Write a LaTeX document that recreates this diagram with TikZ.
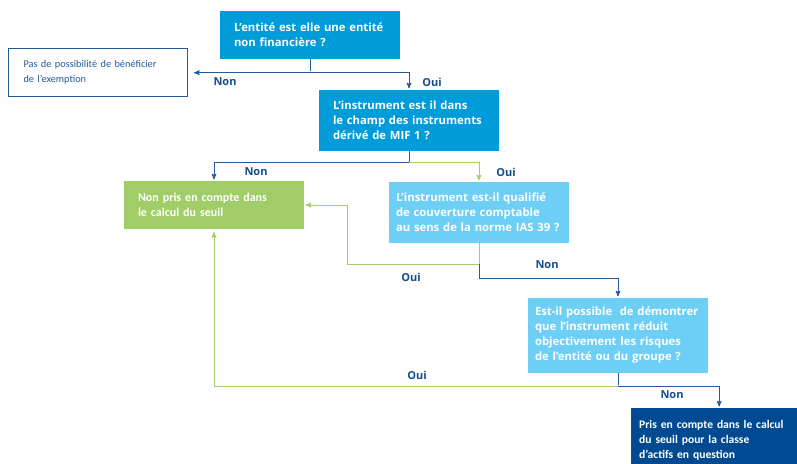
\documentclass[tikz,border=0pt]{standalone}
\usepackage{fontspec}
\setmainfont{Open Sans}
\newfontfamily\condfont{Carlito}
\usetikzlibrary{positioning,calc,arrows}
\definecolor{qblue}{RGB}{0,156,218}
\definecolor{subblue}{RGB}{110,207,246}
\definecolor{okgreen}{RGB}{161,205,104}
\definecolor{darkblue}{RGB}{0,74,145}
\definecolor{linkblue}{RGB}{35,90,155}
\definecolor{linkgreen}{RGB}{160,208,110}
\definecolor{lblblue}{RGB}{20,75,145}

\begin{document}
\begin{tikzpicture}[x=1pt,y=-1pt,
question/.style={rectangle, fill=qblue, text=white, align=left, inner ysep=0pt,
  font=\bfseries\fontsize{11.3}{15}\selectfont, minimum height=48pt, text width=152pt, inner xsep=14pt},
subq/.style={rectangle, fill=subblue, text=white, align=left, inner ysep=0pt,
  font=\bfseries\fontsize{11.3}{15}\selectfont, text width=166pt, inner xsep=7pt},
exclu/.style={rectangle, fill=okgreen, text=white, align=left, inner ysep=0pt,
  font=\condfont\bfseries\fontsize{12}{15}\selectfont, minimum height=48pt, text width=152pt, inner xsep=14pt},
inclu/.style={rectangle, fill=darkblue, text=white, align=left, inner ysep=0pt,
  font=\condfont\bfseries\fontsize{11.6}{15}\selectfont, minimum height=64pt, text width=160pt, inner xsep=8pt},
outcome/.style={rectangle, draw=linkblue, line width=1pt, fill=white, text=linkblue, align=left, inner ysep=0pt,
  font=\condfont\fontsize{10.3}{15}\selectfont, minimum height=48pt, text width=149pt, inner xsep=15pt},
bluelink/.style={draw=linkblue, line width=1pt, >=stealth', shorten >=1.5pt},
greenlink/.style={draw=linkgreen, line width=1pt, >=stealth', shorten >=1.5pt},
lbl/.style={text=lblblue, font=\bfseries\fontsize{11}{13}\selectfont, inner sep=0pt},
]
\useasboundingbox (0,0) rectangle (797,463);

% boxes
\node[question] (entite) at (310,35) {L’entité est elle une entité\\non financière ?};
\node[outcome] (exempt) at (98,72.5) {Pas de possibilité de bénéficier\\de l’exemption};
\node[question, minimum height=61pt] (mif) at (409,120.5)
  {L’instrument est il dans\\le champ des instruments\\dérivé de MIF 1 ?};
\node[exclu] (seuil) at (214,205) {Non pris en compte dans\\le calcul du seuil};
\node[subq, minimum height=61pt] (ias) at (479,212.5)
  {L’instrument est-il qualifié\\de couverture comptable\\au sens de la norme IAS 39 ?};
\node[subq, minimum height=75pt] (risque) at (618,335.5)
  {Est-il possible\ \ de démontrer\\que l’instrument réduit\\objectivement les risques\\de l’entité ou du groupe ?};
\node[inclu, anchor=north west] (pris) at (631,408)
  {Pris en compte dans le calcul\\du seuil pour la classe\\d’actifs en question};

% first question
\coordinate (j1) at ($(entite.south)+(0,13.5)$);
\draw[bluelink] (entite.south) -- (j1);
\draw[bluelink,->, shorten >=6pt] (j1) -- (exempt.east |- j1);
\draw[bluelink,->] (j1) -| (mif.north);
\node[lbl] (non1) at (225,82) {Non};
\node[lbl] (oui1) at (432,82) {Oui};

% MIF 1
\coordinate (j2) at ($(mif.south)+(0,11)$);
\draw[bluelink,->] (mif.south) -- (j2) -| (seuil.north);
\draw[greenlink,->] (j2) -| (ias.north);
\node[lbl] (non2) at (256,172) {Non};
\node[lbl] (oui2) at (506,172) {Oui};

% IAS 39
\coordinate (j3) at ($(ias.south)+(0,21)$);
\coordinate (j4) at ($(ias.south)+(0,35)$);
\coordinate (k3) at ($(seuil.east)+(43,0)$);
\draw[greenlink,->] (ias.south) |- (k3 |- j3) -- (k3) -- (seuil.east);
\draw[bluelink,->] (j3) -- (j4) -| (risque.north);
\node[lbl] (oui3) at (411,277) {Oui};
\node[lbl] (non3) at (547,265) {Non};

% reduction des risques
\coordinate (j5) at ($(risque.south)+(0,13)$);
\draw[bluelink] (risque.south) -- (j5);
\draw[greenlink,->, shorten >=3pt] (j5) -| (seuil.south);
\draw[bluelink,->] (j5) -| (pris.north);
\node[lbl] (oui4) at (417,375) {Oui};
\node[lbl] (non4) at (672,395) {Non};
\end{tikzpicture}
\end{document}
